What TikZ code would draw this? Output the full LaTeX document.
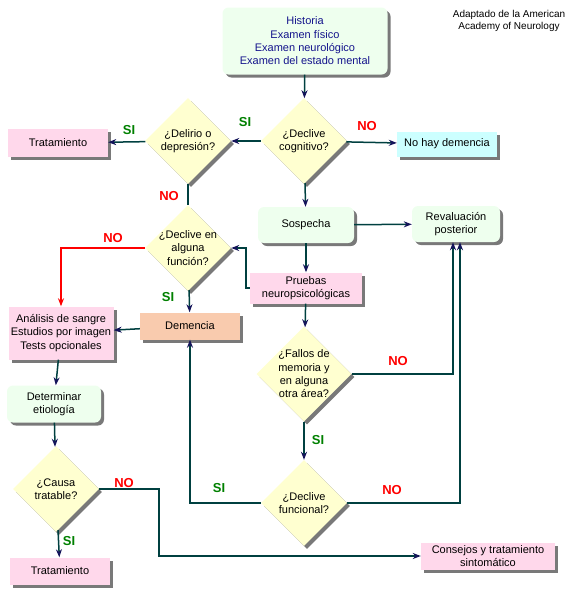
\documentclass[tikz,border=0pt]{standalone}
\usepackage{fontspec}
\setmainfont{Liberation Sans}
\usepackage{xcolor}
\usepackage{tikz}
\usetikzlibrary{shapes.geometric, arrows.meta, shadows}

\definecolor{linecol}{RGB}{0,64,64}
\definecolor{tipcol}{RGB}{20,20,90}
\definecolor{greenbox}{RGB}{238,255,238}
\definecolor{pinkbox}{RGB}{255,216,235}
\definecolor{cyanbox}{RGB}{204,255,255}
\definecolor{salmonbox}{RGB}{249,203,174}
\definecolor{yellowbox}{RGB}{255,255,208}
\definecolor{sigreen}{RGB}{0,128,0}
\definecolor{titleblue}{RGB}{20,20,140}

\tikzset{
  shade box/.style={drop shadow={shadow xshift=3pt, shadow yshift=-3pt, fill=black!70, opacity=0.75}},
  box/.style={rectangle, align=center, inner sep=2pt, font=\fontsize{11}{13.3}\selectfont, shade box},
  roundbox/.style={box, fill=greenbox, rounded corners=6pt},
  pinkb/.style={box, fill=pinkbox},
  decision/.style={diamond, aspect=1, fill=yellowbox, align=center, inner sep=-6pt,
    minimum width=86pt, minimum height=86pt, font=\fontsize{11}{13.3}\selectfont, shade box},
  flow/.style={draw=linecol, line width=1.5pt, -{Stealth[length=8pt, width=6pt, inset=2.5pt, color=tipcol]}},
  noflow/.style={draw=red, line width=1.5pt, -{Stealth[length=8pt, width=6pt, inset=2.5pt]}},
  link/.style={draw=linecol, line width=1.5pt},
  yes/.style={font=\fontsize{13}{13}\selectfont\bfseries, text=sigreen},
  no/.style={font=\fontsize{13}{13}\selectfont\bfseries, text=red}
}

\begin{document}
\begin{tikzpicture}[x=1pt, y=-1pt]
\useasboundingbox (0,0) rectangle (570,600);

\node[roundbox, text=titleblue, minimum width=165pt, minimum height=67pt] (historia) at (305,41)
  {Historia\\Examen físico\\Examen neurológico\\Examen del estado mental};
\node[align=center, font=\fontsize{10}{12}\selectfont] (fuente) at (509,21)
  {Adaptado de la American\\Academy of Neurology};

\node[decision] (cognitivo) at (304,141) {¿Declive\\cognitivo?};
\node[decision] (delirio) at (188,141) {¿Delirio o\\depresión?};
\node[pinkb, minimum width=100pt, minimum height=28pt] (trat1) at (58,143) {Tratamiento};
\node[box, fill=cyanbox, minimum width=100pt, minimum height=25pt] (nohay) at (447,144) {No hay demencia};

\node[decision] (funcion) at (188,248) {¿Declive en\\alguna\\función?};
\node[roundbox, minimum width=96pt, minimum height=36pt] (sospecha) at (306,225) {Sospecha};
\node[roundbox, minimum width=88pt, minimum height=36pt] (reval) at (456,224) {Revaluación\\posterior};
\node[pinkb, minimum width=112pt, minimum height=31pt] (pruebas) at (306,288) {Pruebas\\neuropsicológicas};
\node[box, fill=salmonbox, minimum width=100pt, minimum height=27pt] (demencia) at (190,326) {Demencia};
\node[pinkb, minimum width=105pt, minimum height=53pt] (analisis) at (61,333)
  {Análisis de sangre\\Estudios por imagen\\Tests opcionales};

\node[decision, minimum width=95pt, minimum height=95pt] (fallos) at (304,374)
  {¿Fallos de\\memoria y\\en alguna\\otra área?};
\node[decision] (funcional) at (304,503) {¿Declive\\funcional?};
\node[roundbox, minimum width=94pt, minimum height=37pt] (etiologia) at (54,404) {Determinar\\etiología};
\node[decision] (causa) at (56,489) {¿Causa\\tratable?};
\node[pinkb, minimum width=100pt, minimum height=27pt] (trat2) at (60,571) {Tratamiento};
\node[pinkb, minimum width=134pt, minimum height=27pt] (consejos) at (488,556)
  {Consejos y tratamiento\\sintomático};

\draw[flow] (historia) -- (cognitivo);
\draw[flow] (cognitivo) -- (delirio);
\draw[flow] (cognitivo) -- (nohay);
\draw[flow] (delirio) -- (trat1);
\draw[link] (delirio) -- (funcion);
\draw[flow] (cognitivo) -- (sospecha);
\draw[flow] (sospecha) -- (reval);
\draw[flow] (sospecha) -- (pruebas);
\draw[flow] (pruebas.west) -- ++(-4,0) |- (funcion.east);
\draw[noflow] (funcion.west) -| (analisis.north);
\draw[flow] (funcion) -- (demencia);
\draw[flow] (demencia) -- (analisis);
\draw[flow] (pruebas) -- (fallos);
\draw[flow] (fallos.east) -| ([xshift=-3pt]reval.south);
\draw[flow] (fallos) -- (funcional);
\draw[flow] (funcional.west) -| (demencia.south);
\draw[flow] (funcional.east) -| ([xshift=4pt]reval.south);
\draw[flow] (analisis) -- (etiologia);
\draw[flow] (etiologia) -- (causa);
\draw[flow] (causa) -- (trat2);
\draw[flow] (causa.east) -- ++(60,0) |- (consejos.west);

\node[yes] (si1) at (129,130) {SI};
\node[yes] (si2) at (245,122) {SI};
\node[no] (no1) at (367,126) {NO};
\node[no] (no2) at (169,196) {NO};
\node[no] (no3) at (113,238) {NO};
\node[yes] (si3) at (168,297) {SI};
\node[no] (no4) at (398,361) {NO};
\node[yes] (si4) at (318,440) {SI};
\node[yes] (si5) at (219,488) {SI};
\node[no] (no5) at (392,490) {NO};
\node[no] (no6) at (124,483) {NO};
\node[yes] (si6) at (69,541) {SI};
\end{tikzpicture}
\end{document}
